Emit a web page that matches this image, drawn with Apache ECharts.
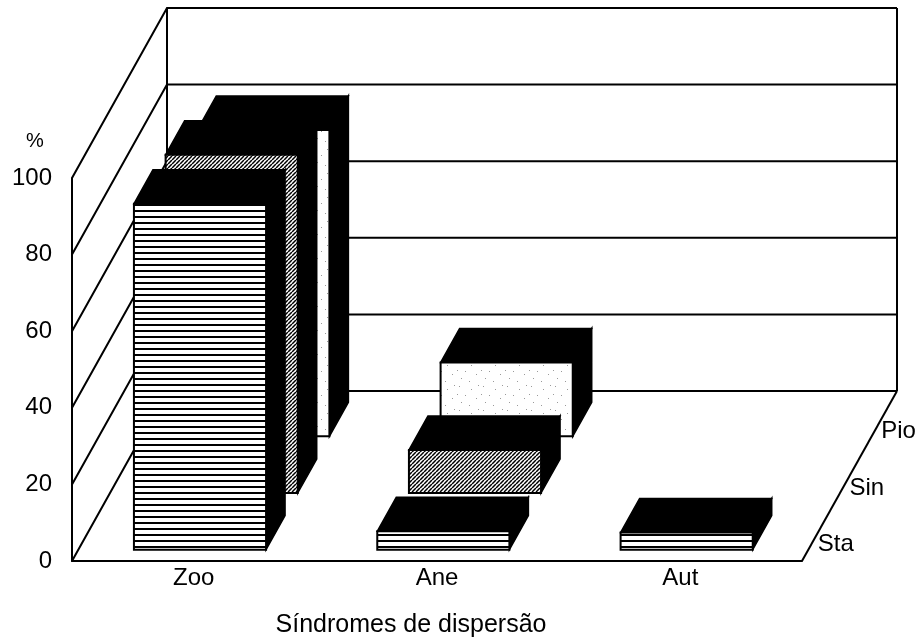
<!DOCTYPE html>
<html>
<head>
<meta charset="utf-8">
<script src="https://cdn.jsdelivr.net/npm/echarts@6/dist/echarts.min.js"></script>
<style>
  html, body { margin: 0; padding: 0; background: #fff; }
  #chart { width: 922px; height: 641px; }
</style>
</head>
<body>
<div id="chart"></div>
<script>
// Dispersal syndromes (%) for three forest stages
const categories = ['Zoo', 'Ane', 'Aut'];
const rowNames = ['Sta', 'Sin', 'Pio'];
const staValues = [90.3, 4.8, 4.5];
const sinValues = [88.3, 11.2, 0];
const pioValues = [80, 19.3, 0];
const yTicks = [0, 20, 40, 60, 80, 100];

const FONT = '"Liberation Sans", Arial, Helvetica, sans-serif';
// projected offset of the whole floor depth (front edge -> back wall)
const DEPTH_X = 95;
const DEPTH_Y = -170;
const ROWS = rowNames.length;
const BAR_DEPTH = 0.6;   // share of a depth row taken by a bar
const BAR_WIDTH = 0.543; // share of a category slot taken by a bar

// ---- fill patterns for the bar fronts ----
function makeCanvas(w, h) {
  const c = document.createElement('canvas');
  c.width = w; c.height = h;
  const ctx = c.getContext('2d');
  ctx.fillStyle = '#fff';
  ctx.fillRect(0, 0, w, h);
  return [c, ctx];
}
function stripePattern() {
  const [c, ctx] = makeCanvas(8, 6);
  ctx.fillStyle = '#000';
  ctx.fillRect(0, 0, 8, 2);
  return c;
}
function hatchPattern() {
  const s = 4;
  const [c, ctx] = makeCanvas(s, s);
  ctx.strokeStyle = '#000';
  ctx.lineWidth = 1.5;
  for (const o of [-s, 0, s]) {
    ctx.beginPath();
    ctx.moveTo(o, s);
    ctx.lineTo(o + s, 0);
    ctx.stroke();
  }
  return c;
}
function dotPattern() {
  const [c, ctx] = makeCanvas(24, 24);
  ctx.fillStyle = '#9a9a9a';
  const dots = [[3, 2], [15, 5], [9, 11], [20, 14], [5, 18], [13, 21], [22, 1], [1, 10]];
  dots.forEach(([x, y]) => ctx.fillRect(x, y, 1, 1));
  return c;
}
const fills = [
  { image: stripePattern(), repeat: 'repeat' },
  { image: hatchPattern(), repeat: 'repeat' },
  { image: dotPattern(), repeat: 'repeat' }
];

// ---- walls, floor and grid lines ----
function renderWalls(params, api) {
  const cs = params.coordSys;
  const v = api.value(1);
  const y = api.coord([0, v])[1];
  const xL = cs.x, xR = cs.x + cs.width;
  const line = { stroke: '#000', lineWidth: 2, fill: null };
  const children = [{
    type: 'polyline',
    shape: { points: [[xL, y], [xL + DEPTH_X, y + DEPTH_Y], [xR + DEPTH_X, y + DEPTH_Y]] },
    style: line
  }];
  if (params.dataIndex === 0) {
    const yTop = api.coord([0, yTicks[yTicks.length - 1]])[1];
    children.push(
      { type: 'line', shape: { x1: xL + DEPTH_X, y1: y + DEPTH_Y, x2: xL + DEPTH_X, y2: yTop + DEPTH_Y }, style: line },
      { type: 'line', shape: { x1: xR + DEPTH_X, y1: y + DEPTH_Y, x2: xR + DEPTH_X, y2: yTop + DEPTH_Y }, style: line },
      { type: 'line', shape: { x1: xR, y1: y, x2: xR + DEPTH_X, y2: y + DEPTH_Y }, style: line }
    );
    rowNames.forEach((name, r) => {
      const d = (r + 0.5) / ROWS;
      children.push({
        type: 'text',
        x: xR + d * DEPTH_X,
        y: y + d * DEPTH_Y + 12,
        style: { text: name, fill: '#000', font: '24px ' + FONT, textAlign: 'left', textVerticalAlign: 'middle' }
      });
    });
  }
  return { type: 'group', children };
}

// ---- 3D blocks: front face, top and right side ----
function blockRenderer(row) {
  return function (params, api) {
    const v = api.value(1);
    if (!v) return null;
    const base = api.coord([api.value(0), 0]);
    const top = api.coord([api.value(0), v]);
    const w = api.size([1, 0])[0] * BAR_WIDTH;
    const d0 = (row + (1 - BAR_DEPTH) / 2) / ROWS;
    const d1 = (row + (1 + BAR_DEPTH) / 2) / ROWS;
    const ox0 = d0 * DEPTH_X, oy0 = d0 * DEPTH_Y;
    const ox1 = d1 * DEPTH_X, oy1 = d1 * DEPTH_Y;
    const xl = base[0] - w / 2, xr = base[0] + w / 2;
    const yb = base[1], yt = top[1];
    const dark = { fill: '#000', stroke: '#000', lineWidth: 1.5 };
    return {
      type: 'group',
      children: [
        {
          type: 'polygon',
          shape: { points: [[xr + ox0, yb + oy0], [xr + ox1, yb + oy1], [xr + ox1, yt + oy1], [xr + ox0, yt + oy0]] },
          style: dark
        },
        {
          type: 'polygon',
          shape: { points: [[xl + ox0, yt + oy0], [xr + ox0, yt + oy0], [xr + ox1, yt + oy1], [xl + ox1, yt + oy1]] },
          style: dark
        },
        {
          type: 'polygon',
          shape: { points: [[xl + ox0, yb + oy0], [xr + ox0, yb + oy0], [xr + ox0, yt + oy0], [xl + ox0, yt + oy0]] },
          style: { fill: fills[row], stroke: '#000', lineWidth: 2 }
        }
      ]
    };
  };
}

const rowValues = [staValues, sinValues, pioValues];
const blockSeries = [];
// back row first so nearer rows cover it
for (let r = ROWS - 1; r >= 0; r--) {
  blockSeries.push({
    type: 'custom',
    name: rowNames[r],
    z: 3,
    renderItem: blockRenderer(r),
    data: rowValues[r].map((v, i) => [i, v]),
    encode: { x: 0, y: 1 }
  });
}

const chart = echarts.init(document.getElementById('chart'), null, { renderer: 'canvas' });
chart.setOption({
  animation: false,
  backgroundColor: '#fff',
  grid: { left: 72, right: 120, top: 178, bottom: 80 },
  xAxis: {
    type: 'category',
    data: categories,
    boundaryGap: true,
    axisLine: { show: true, lineStyle: { color: '#000', width: 2 } },
    axisTick: { show: false },
    axisLabel: { color: '#000', fontSize: 24, fontFamily: FONT, margin: 5 },
    splitLine: { show: false }
  },
  yAxis: {
    type: 'value',
    min: 0,
    max: 100,
    interval: 20,
    axisLine: { show: true, lineStyle: { color: '#000', width: 2 } },
    axisTick: { show: false },
    axisLabel: { color: '#000', fontSize: 24, fontFamily: FONT, margin: 20 },
    splitLine: { show: false }
  },
  graphic: [
    { type: 'text', x: 35, y: 141, style: { text: '%', fill: '#000', font: '20px ' + FONT, textAlign: 'center', textVerticalAlign: 'middle' } },
    { type: 'text', x: 411, y: 625, style: { text: 'Síndromes de dispersão', fill: '#000', font: '25px ' + FONT, textAlign: 'center', textVerticalAlign: 'middle' } }
  ],
  series: [
    {
      type: 'custom',
      name: 'walls',
      z: 1,
      silent: true,
      renderItem: renderWalls,
      data: yTicks.map(v => [0, v]),
      encode: { x: 0, y: 1 }
    }
  ].concat(blockSeries)
});
</script>
</body>
</html>
